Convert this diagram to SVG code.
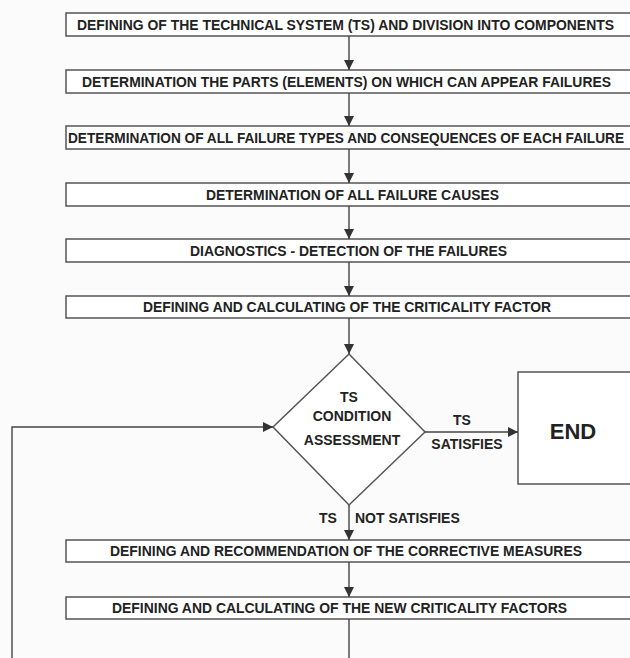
<svg xmlns="http://www.w3.org/2000/svg" width="630" height="658" viewBox="0 0 630 658">
<defs>
<marker id="ah" markerWidth="10" markerHeight="10" refX="10" refY="5" orient="auto" markerUnits="userSpaceOnUse">
<path d="M0,0 L10,5 L0,10 Z" fill="#333"/>
</marker>
<style>
.box{fill:#fff;stroke:#555;stroke-width:1.5}
.t{font-family:"Liberation Sans",Arial,sans-serif;font-weight:bold;font-size:14px;fill:#222}
.s{font-size:14px}
.e{font-size:22px}
.c{stroke:#444;stroke-width:1.4;fill:none}
</style>
</defs>
<rect width="630" height="658" fill="#fbfbfb"/>
<g id="n1"><rect class="box" x="66" y="13" width="570" height="23"/><text class="t" x="77" y="29.5" textLength="537" lengthAdjust="spacingAndGlyphs">DEFINING OF THE TECHNICAL SYSTEM (TS) AND DIVISION INTO COMPONENTS</text></g>
<g id="n2"><rect class="box" x="66" y="70" width="570" height="23"/><text class="t" x="82" y="86.5" textLength="529" lengthAdjust="spacingAndGlyphs">DETERMINATION THE PARTS (ELEMENTS) ON WHICH CAN APPEAR FAILURES</text></g>
<g id="n3"><rect class="box" x="66" y="126" width="570" height="23"/><text class="t" x="68" y="142.5" textLength="556" lengthAdjust="spacingAndGlyphs">DETERMINATION OF ALL FAILURE TYPES AND CONSEQUENCES OF EACH FAILURE</text></g>
<g id="n4"><rect class="box" x="66" y="183" width="570" height="23"/><text class="t" x="206" y="199.5" textLength="293" lengthAdjust="spacingAndGlyphs">DETERMINATION OF ALL FAILURE CAUSES</text></g>
<g id="n5"><rect class="box" x="66" y="239" width="570" height="23"/><text class="t" x="190" y="255.5" textLength="317" lengthAdjust="spacingAndGlyphs">DIAGNOSTICS - DETECTION OF THE FAILURES</text></g>
<g id="n6"><rect class="box" x="66" y="296" width="570" height="22"/><text class="t" x="143" y="312" textLength="408" lengthAdjust="spacingAndGlyphs">DEFINING AND CALCULATING OF THE CRITICALITY FACTOR</text></g>
<g id="n7"><path class="box" d="M349,354 L425,432 L349,505 L273,427 Z"/>
<text class="t s" x="349" y="402" text-anchor="middle">TS</text>
<text class="t s" x="352" y="421" text-anchor="middle">CONDITION</text>
<text class="t s" x="352" y="445" text-anchor="middle">ASSESSMENT</text></g>
<g id="n8"><rect class="box" x="518" y="372" width="120" height="112"/><text class="t e" x="573" y="439" text-anchor="middle">END</text></g>
<g id="n9"><rect class="box" x="66" y="540" width="570" height="22"/><text class="t" x="110" y="556" textLength="472" lengthAdjust="spacingAndGlyphs">DEFINING AND RECOMMENDATION OF THE CORRECTIVE MEASURES</text></g>
<g id="n10"><rect class="box" x="66" y="597" width="570" height="22"/><text class="t" x="112" y="613" textLength="455" lengthAdjust="spacingAndGlyphs">DEFINING AND CALCULATING OF THE NEW CRITICALITY FACTORS</text></g>
<g id="connectors">
<line class="c" x1="349" y1="36" x2="349" y2="70" marker-end="url(#ah)"/>
<line class="c" x1="349" y1="93" x2="349" y2="126" marker-end="url(#ah)"/>
<line class="c" x1="349" y1="149" x2="349" y2="183" marker-end="url(#ah)"/>
<line class="c" x1="349" y1="206" x2="349" y2="239" marker-end="url(#ah)"/>
<line class="c" x1="349" y1="262" x2="349" y2="296" marker-end="url(#ah)"/>
<line class="c" x1="349" y1="318" x2="349" y2="354" marker-end="url(#ah)"/>
<line class="c" x1="425" y1="432" x2="518" y2="432" marker-end="url(#ah)"/>
<line class="c" x1="349" y1="505" x2="349" y2="540" marker-end="url(#ah)"/>
<line class="c" x1="349" y1="562" x2="349" y2="597" marker-end="url(#ah)"/>
<line class="c" x1="349" y1="619" x2="349" y2="658"/>
<polyline class="c" points="12,658 12,427 273,427" marker-end="url(#ah)"/>
<text class="t s" x="462" y="425" text-anchor="middle">TS</text>
<text class="t s" x="467" y="449" text-anchor="middle">SATISFIES</text>
<text class="t s" x="328" y="523" text-anchor="middle">TS</text>
<text class="t s" x="355" y="523">NOT SATISFIES</text>
</g>
</svg>
